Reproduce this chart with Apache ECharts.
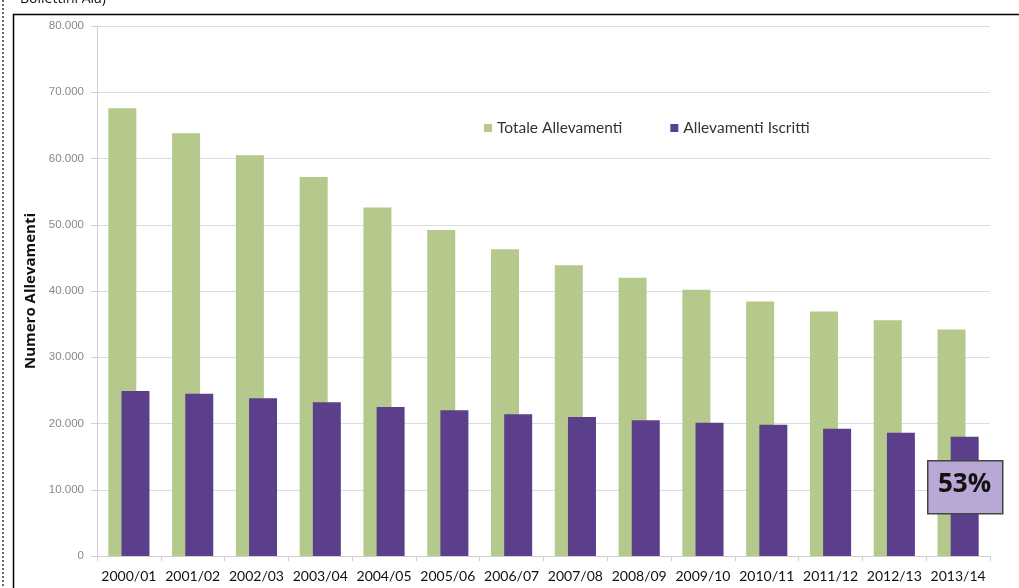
<!DOCTYPE html>
<html><head><meta charset="utf-8">
<script src="https://cdn.jsdelivr.net/npm/echarts@6/dist/echarts.min.js"></script>
<style>html,body{margin:0;padding:0;background:#fff}#c{width:1019px;height:588px}</style>
</head><body><div id="c"></div>
<script>
const categories = ['2000/01','2001/02','2002/03','2003/04','2004/05','2005/06','2006/07','2007/08','2008/09','2009/10','2010/11','2011/12','2012/13','2013/14'];
const totale = [67600,63800,60500,57200,52600,49200,46300,43900,42000,40200,38400,36900,35600,34200];
const iscritti = [24900,24500,23800,23200,22500,22000,21400,21000,20500,20100,19800,19200,18600,18000];
const seriesNames = ['Totale Allevamenti','Allevamenti Iscritti'];
const yTicks = {min:0, max:80000, interval:10000};
const axisName = 'Numero Allevamenti';
const boxLabel = '53%';
const topText = 'Bollettini Aia)';

const chart = echarts.init(document.getElementById('c'), null, {renderer:'canvas'});
chart.setOption({
  animation:false,
  backgroundColor:'#fff',
  grid:{left:97, right:29, top:26, bottom:32, containLabel:false},
  legend:{
    top:116, left:478, itemGap:48, itemWidth:8, itemHeight:8, icon:'rect',
    backgroundColor:'#fff', padding:[4,6],
    textStyle:{fontFamily:'Lato', fontSize:15.5, color:'#333'},
    data:seriesNames
  },
  xAxis:{
    type:'category', data:categories,
    axisLine:{lineStyle:{color:'#d0d0d0'}},
    axisTick:{show:true, length:5, lineStyle:{color:'#d0d0d0'}},
    axisLabel:{fontFamily:'Lato', fontSize:14, color:'#111', margin:13, interval:0}
  },
  yAxis:{
    type:'value', min:yTicks.min, max:yTicks.max, interval:yTicks.interval,
    name:axisName, nameLocation:'middle', nameGap:58,
    nameTextStyle:{fontFamily:'Open Sans', fontSize:15, fontWeight:'bold', color:'#111'},
    axisLine:{show:true, lineStyle:{color:'#d0d0d0'}},
    axisTick:{show:true, length:6, lineStyle:{color:'#d0d0d0'}},
    splitLine:{lineStyle:{color:'#dcdcdc'}},
    axisLabel:{fontFamily:'Liberation Sans', fontSize:11.5, color:'#888', margin:13,
      formatter:v=> v===0 ? '0' : (v/1000).toFixed(0)+'.000'}
  },
  series:[
    {name:seriesNames[0], type:'bar', data:totale, barWidth:28, barGap:'-53%',
     itemStyle:{color:'#b4c98b'}},
    {name:seriesNames[1], type:'bar', data:iscritti, barWidth:28, barGap:'-53%',
     itemStyle:{color:'#5c3f8a'}}
  ],
  graphic:[
    {type:'rect', left:11, top:12, shape:{width:1012, height:580}, style:{fill:'none', stroke:'#000', lineWidth:1.5}, z:-1, silent:true},
    {type:'line', shape:{x1:3, y1:0, x2:3, y2:588}, style:{stroke:'#333', lineWidth:1.5, lineDash:[2,2]}},
    {type:'text', left:20, top:-8, style:{text:topText, fontFamily:'Open Sans', fontSize:14, fill:'#111'}},
    {type:'rect', z:100, left:927, top:460, shape:{width:75, height:53},
     style:{fill:'#b9a7d6', stroke:'#444', lineWidth:1.5}},
    {type:'text', z:101, left:938, top:472, style:{text:boxLabel, fontFamily:'Open Sans', fontWeight:'bold', fontSize:26, fill:'#111'}}
  ]
});
</script></body></html>
